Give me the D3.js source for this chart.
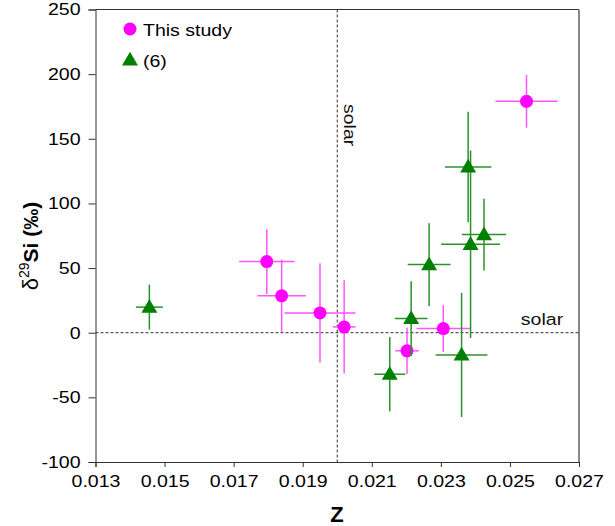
<!DOCTYPE html>
<html><head><meta charset="utf-8">
<script src="https://cdn.jsdelivr.net/npm/d3@7"></script>
<style>body{margin:0;background:#fff}svg{display:block}text{font-family:"Liberation Sans",Arial,sans-serif}</style>
</head><body>
<svg id="c" width="615" height="526"></svg>
<script>
// This study
const studyZ     = [0.01796, 0.01839, 0.01950, 0.02020, 0.02202, 0.02307, 0.02548];
const studyZerr  = [0.00080, 0.00070, 0.00103, 0.00033, 0.00034, 0.00077, 0.00090];
const studyD     = [55, 28.5, 15.3, 4.5, -14, 3.2, 179];
const studyDerr  = [25, 28, 38.5, 36, 18, 18, 20.4];
// (6)
const refZ    = [0.01456, 0.02152, 0.02214, 0.02266, 0.02360, 0.02379, 0.02386, 0.02425];
const refZerr = [0.00039, 0.00045, 0.00047, 0.00062, 0.00075, 0.00067, 0.00085, 0.00064];
const refD    = [19.8, -32.1, 11, 52.7, -17.2, 128.2, 68.4, 75.9];
const refDerr = [17.4, 28.7, 28.8, 32, 48, 42.7, 72.5, 27.8];
const xTicks = [0.013, 0.015, 0.017, 0.019, 0.021, 0.023, 0.025, 0.027];
const yTicks = [-100, -50, 0, 50, 100, 150, 200, 250];
const solarZ = 0.020, solarD = 0;

const svg = d3.select("#c");
const L = 95.5, R = 579, T = 9.5, B = 462;
const x = d3.scaleLinear().domain([0.013, 0.027]).range([L, R]);
const y = d3.scaleLinear().domain([-100, 250]).range([B, T]);
const SX = 1.15, FS = 17;

// borders
svg.append("line").attr("x1", L).attr("x2", R).attr("y1", T).attr("y2", T).attr("stroke", "#333").attr("stroke-width", 1);
svg.append("line").attr("x1", R).attr("x2", R).attr("y1", T).attr("y2", B).attr("stroke", "#888").attr("stroke-width", 2);

// solar lines
svg.append("line").attr("x1", x(solarZ)).attr("x2", x(solarZ)).attr("y1", T).attr("y2", B)
  .attr("stroke", "#333").attr("stroke-dasharray", "3,2");
svg.append("line").attr("x1", L).attr("x2", R).attr("y1", y(solarD)).attr("y2", y(solarD))
  .attr("stroke", "#333").attr("stroke-dasharray", "3,2");
svg.append("text").attr("transform", `translate(${x(solarZ)+7},${104}) rotate(90) scale(${SX},1)`)
  .attr("font-size", FS).text("solar").attr("fill", "#111");
svg.append("text").attr("transform", `translate(${542},${325}) scale(${SX},1)`)
  .attr("font-size", FS).attr("text-anchor", "middle").text("solar").attr("fill", "#111");

// axes
const gy = svg.append("g").attr("transform", `translate(${L},0)`);
gy.call(d3.axisLeft(y).tickValues(d3.range(-100, 251, 10).filter(v => v % 50 !== 0)).tickSize(5).tickFormat(""));
gy.call(d3.axisLeft(y).tickValues(yTicks).tickSize(7).tickPadding(8).tickFormat(d => String(d)));
gy.selectAll("path.domain").attr("stroke", "#333");
gy.selectAll("line").attr("stroke", "#333");
gy.selectAll(".tick text").attr("font-size", FS).attr("fill", "#000").attr("font-family", "Liberation Sans, Arial, sans-serif")
  .each(function(){ const t = d3.select(this); const xx = +t.attr("x"); t.attr("x", null).attr("transform", `translate(${xx},0) scale(${SX},1)`); });
const gx = svg.append("g").attr("transform", `translate(0,${B})`);
gx.call(d3.axisBottom(x).tickValues(xTicks).tickSize(5).tickPadding(8).tickFormat(d3.format(".3f")));
gx.selectAll("path.domain").attr("stroke", "#333");
gx.selectAll("line").attr("stroke", "#333");
gx.selectAll(".tick text").attr("font-size", FS).attr("fill", "#000").attr("font-family", "Liberation Sans, Arial, sans-serif")
  .each(function(){ const t = d3.select(this); const yy = +t.attr("y"); t.attr("y", null).attr("transform", `translate(0,${yy}) scale(${SX},1)`); });

// axis titles
svg.append("text").attr("x", 337).attr("y", 522).attr("text-anchor", "middle")
  .attr("font-size", 22).attr("font-weight", "bold").text("Z");
const yl = svg.append("text").attr("transform", `translate(38,${246}) rotate(-90)`).attr("text-anchor", "middle")
  .attr("font-size", 21).attr("font-weight", "bold");
yl.append("tspan").attr("font-weight", "normal").attr("font-size", 22).text("δ");
yl.append("tspan").attr("font-size", 14).attr("font-weight", "normal").attr("dy", -9).text("29");
yl.append("tspan").attr("dy", 9).text("Si (‰)");

// error bars + points
function drawSeries(zs, ze, ds, de, col, barCol, shape) {
  const g = svg.append("g");
  zs.forEach((z, i) => {
    g.append("line").attr("x1", x(z - ze[i])).attr("x2", x(z + ze[i])).attr("y1", y(ds[i])).attr("y2", y(ds[i]))
      .attr("stroke", barCol).attr("stroke-width", 1.5);
    g.append("line").attr("x1", x(z)).attr("x2", x(z)).attr("y1", y(ds[i] - de[i])).attr("y2", y(ds[i] + de[i]))
      .attr("stroke", barCol).attr("stroke-width", 1.5);
  });
  zs.forEach((z, i) => {
    if (shape === "circle") {
      g.append("circle").attr("cx", x(z)).attr("cy", y(ds[i])).attr("r", 6.5).attr("fill", col);
    } else {
      g.append("path").attr("d", d3.symbol(d3.symbolTriangle, 110)()).attr("transform", `translate(${x(z)},${y(ds[i])+1})`).attr("fill", col);
    }
  });
}
drawSeries(studyZ, studyZerr, studyD, studyDerr, "#ff00ff", "#ff55ff", "circle");
drawSeries(refZ, refZerr, refD, refDerr, "#008000", "#2a922a", "triangle");

// legend
svg.append("circle").attr("cx", 130).attr("cy", 29).attr("r", 6.5).attr("fill", "#ff00ff");
svg.append("path").attr("d", d3.symbol(d3.symbolTriangle, 110)()).attr("transform", "translate(130,61)").attr("fill", "#008000");
svg.append("text").attr("transform", `translate(143,36) scale(${SX},1)`).attr("font-size", FS).text("This study");
svg.append("text").attr("transform", `translate(143,67) scale(${SX},1)`).attr("font-size", FS).text("(6)");
</script>
</body></html>
